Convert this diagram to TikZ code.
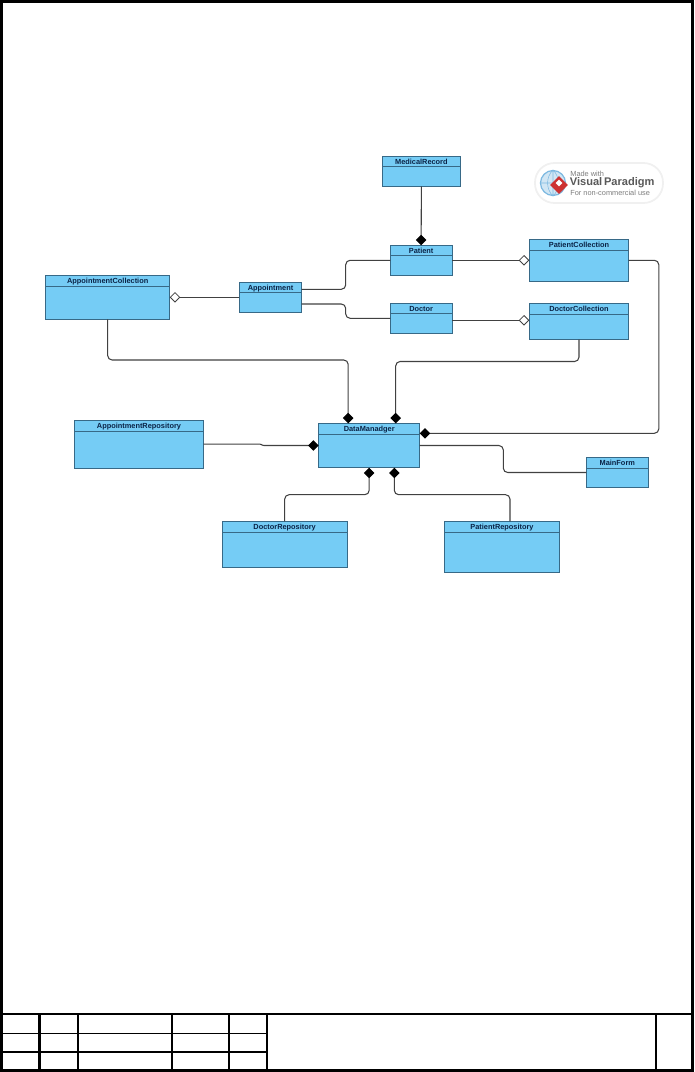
\documentclass[tikz,border=0pt]{standalone}
\usepackage{fontspec}
\setmainfont{Liberation Sans}
\usepackage{xcolor}
\usetikzlibrary{calc,arrows.meta,shapes.geometric}
\definecolor{classfill}{RGB}{117,204,245}
\definecolor{classline}{RGB}{55,105,135}
\definecolor{classtext}{RGB}{10,35,70}
\definecolor{linkline}{RGB}{65,65,65}
\definecolor{logogrey}{RGB}{125,125,125}
\definecolor{logored}{RGB}{205,50,50}
\definecolor{logoblue}{RGB}{125,185,225}
\tikzstyle{cls}=[rectangle,draw=classline,fill=classfill,line width=0.55pt,outer sep=0pt,inner sep=0pt]
\tikzstyle{title}=[anchor=north,inner sep=0pt,text height=4pt,text depth=1pt,text=classtext,font=\fontsize{4.2}{5}\selectfont\bfseries]
\tikzstyle{link}=[draw=linkline,line width=0.6pt,rounded corners=2.5pt]
\tikzstyle{comp}=[link,arrows={-Diamond[length=6pt,width=6pt,fill=black,color=black]}]
\tikzstyle{aggr}=[link,arrows={-Diamond[length=6pt,width=6pt,fill=white,line width=0.45pt]}]
\tikzstyle{frame}=[draw=black,line width=1.3pt]
\tikzstyle{thin}=[draw=black,line width=0.45pt]
\tikzstyle{logotext}=[anchor=west,inner sep=0pt,text=logogrey]
% name, west, north, east, south, divider
\newcommand{\classbox}[7]{%
  \node[cls,minimum width={(#4-#2)*0.02cm},minimum height={(#5-#3)*0.02cm}] (#1) at ({(#2+#4)/2},{(#3+#5)/2}) {};
  \node[title] (#1 title) at ($(#1.north)+(0,0.8)$) {#7};
  \draw[cls] (#1.west |- 0,#6) coordinate (#1 divl) -- (#1.east |- 0,#6) coordinate (#1 divr);
}
\begin{document}
\begin{tikzpicture}[x=0.02cm,y=-0.02cm]
\useasboundingbox (0,0) rectangle (694,1072);

% Sheet
\node[frame,minimum width=13.82cm,minimum height=21.38cm,inner sep=0pt] (sheet) at (347,536) {};
\coordinate (tl) at (1.5,1014.3);
\coordinate (tr) at (692.5,1014.3);
\draw[frame] (tl) -- (tr);
\foreach \tx/\tw in {39.5/1.2,78/1.2,172/1.2,229/1.2,267/1.2,656/1.4}
  \draw[draw=black,line width=\tw pt] (\tx,1014.3) -- (\tx,1070.5);
\draw[thin] (1.5,1033) -- (267,1033);
\draw[frame] (1.5,1052) -- (267,1052);

% Classes
\classbox{record}{382}{156.3}{460.7}{186.3}{166.3}{MedicalRecord}
\classbox{patient}{390.3}{245.3}{452}{275.3}{255.3}{Patient}
\classbox{patients}{529.3}{239.3}{628.7}{281.3}{250}{PatientCollection}
\classbox{doctor}{390.3}{303.3}{452}{333.3}{313.7}{Doctor}
\classbox{doctors}{529.3}{303.3}{628.7}{339.7}{314}{DoctorCollection}
\classbox{appts}{45.7}{275.3}{169.7}{319.3}{286}{AppointmentCollection}
\classbox{appt}{239.3}{282.3}{301.7}{312.3}{292.3}{Appointment}
\classbox{apptrepo}{74.3}{420.3}{203.7}{468}{431.3}{AppointmentRepository}
\classbox{data}{318.7}{423.3}{419.7}{467.7}{434}{DataManadger}
\classbox{mainform}{586.3}{457.3}{648.3}{487.7}{468}{MainForm}
\classbox{doctorrepo}{222}{521.3}{347.3}{567.7}{532}{DoctorRepository}
\classbox{patientrepo}{444.3}{521.3}{559.7}{572.3}{532}{PatientRepository}

% Edges
\draw[comp] (record.south) -- (patient.north);
\draw[aggr] (patient.east) -- (patients.west);
\draw[aggr] ($(doctor.east)+(0,2)$) -- ($(doctors.west)+(0,-1.2)$);
\draw[aggr] (appt.west) -- (appts.east);
\draw[link] ($(appt.east)+(0,-8)$) -- (345.7,289.3) -- (345.7,260.3) -- (patient.west);
\draw[link] ($(appt.east)+(0,6.7)$) -- (345.7,304) -- (345.7,318.3) -- (doctor.west);
\draw[comp] (appts.south) -- (107.7,360) -- (348.2,360) -- ($(data.north)+(-21,0)$);
\draw[comp] (doctors.south) -- (579,361.5) -- (395.7,361.5) -- ($(data.north)+(26.5,0)$);
\draw[comp] (patients.east) -- (658.8,260.3) -- (658.8,433.3) -- ($(data.east)+(0,-12.2)$);
\draw[comp,rounded corners=0.5pt] (apptrepo.east) -- (260.5,444.1) -- (263,445.5) -- (data.west);
\draw[link] (data.east) -- (503.3,445.5) -- (503.3,472.5) -- (mainform.west);
\draw[comp] (doctorrepo.north) -- (284.7,494.7) -- (369.2,494.7) -- (data.south);
\draw[comp] ($(patientrepo.north)+(8,0)$) -- (510,494.7) -- (394.3,494.7) -- ($(data.south)+(25.1,0)$);

% Logo
\node[rectangle,rounded corners=11pt,fill=white,draw=black!6,line width=1pt,minimum width=2.56cm,minimum height=0.8cm,inner sep=0pt] (logo) at (599,183) {};
\node[circle,draw=logoblue,fill=logoblue!35,line width=0.7pt,minimum size=0.5cm,inner sep=0pt] (globe) at (553,183) {};
\draw[logoblue,line width=0.3pt] (globe.west) -- (globe.east) (globe.north) -- (globe.south)
  (globe.north) to[bend left=45] (globe.south) (globe.north) to[bend right=45] (globe.south);
\node[diamond,fill=logored,minimum size=0.36cm,inner sep=0pt] (mark) at (559,185) {};
\node[diamond,fill=white,minimum size=0.14cm,inner sep=0pt] (markin) at (559,183) {};
\node[logotext,font=\fontsize{4.2}{5}\selectfont] (made) at (570,173.5) {Made with};
\node[logotext,font=\fontsize{6.3}{7}\selectfont\bfseries,text=black!65] (brand) at (569.5,183) {Visual\,Paradigm};
\node[logotext,font=\fontsize{4.2}{5}\selectfont] (noncomm) at (570,192.5) {For non-commercial use};

\end{tikzpicture}
\end{document}
